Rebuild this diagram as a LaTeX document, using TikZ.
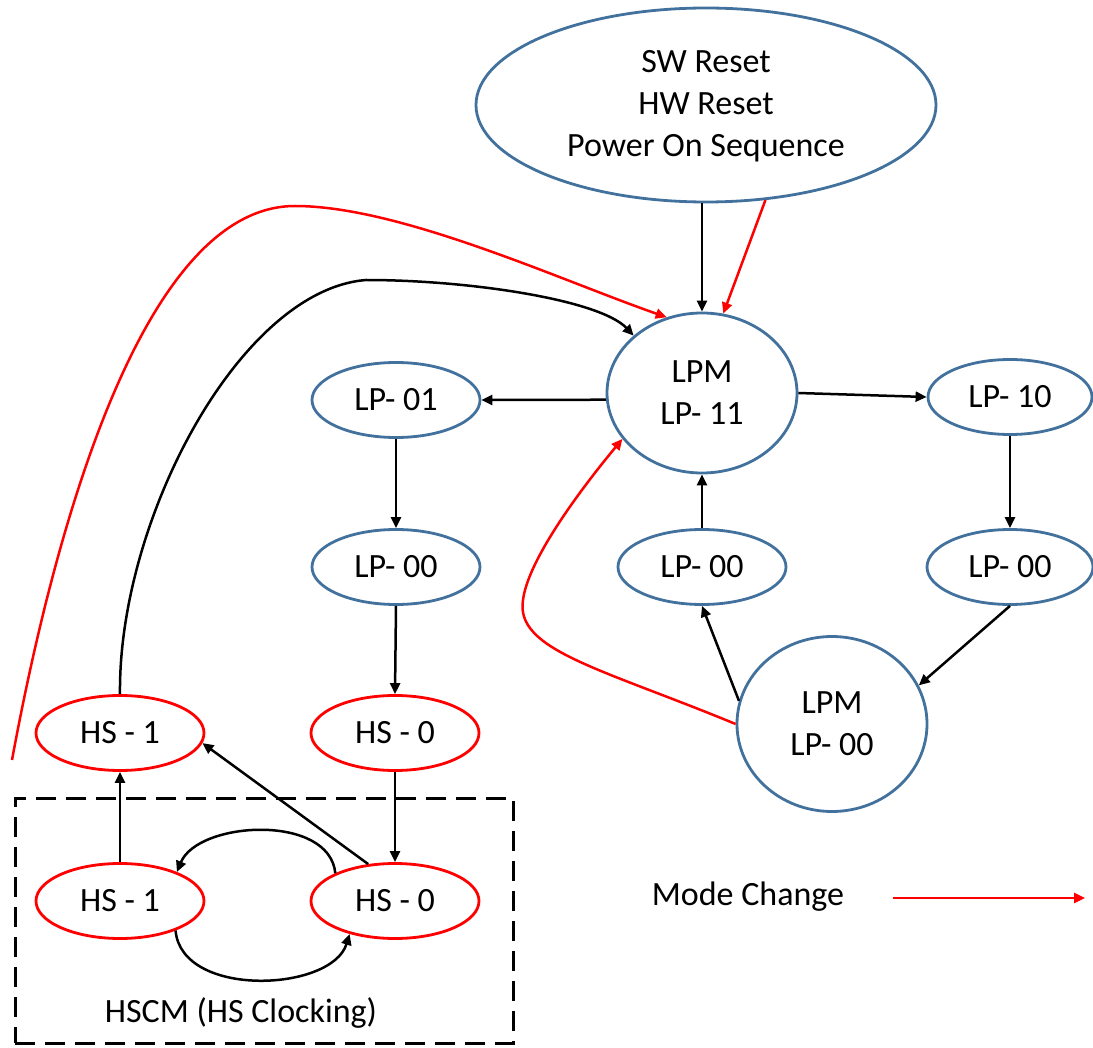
\documentclass[tikz,border=0pt]{standalone}
\usepackage{fontspec}
\setmainfont{Carlito}
\usetikzlibrary{shapes.geometric,arrows.meta}
\definecolor{oblue}{RGB}{65,113,156}
\definecolor{ored}{RGB}{255,0,0}
\begin{document}
\begin{tikzpicture}[x=1pt,y=-1pt,
  st/.style={ellipse,draw=oblue,line width=2.8pt,inner sep=0pt,align=center,font=\fontsize{34}{42}\selectfont},
  hs/.style={st,draw=ored},
  small/.style={minimum width=168pt,minimum height=75pt},
  lbl/.style={inner sep=0pt,font=\fontsize{34}{42}\selectfont},
  conn/.style={line width=2.5pt,-{Triangle[length=11pt,width=10pt]}},
  mode/.style={conn,draw=ored}]
\useasboundingbox (0,0) rectangle (1093,1048);
% nodes
\node[st,minimum width=460pt,minimum height=194pt,text depth=4pt] (top) at (706,105) {SW Reset\\HW Reset\\Power On Sequence};
\node[st,minimum width=190pt,minimum height=160pt] (lp11) at (702,393) {LPM\\LP- 11};
\node[st,small] (lp01) at (396,400) {LP- 01};
\node[st,small,minimum width=164pt] (lp10) at (1010,397) {LP- 10};
\node[st,small] (lp00a) at (396,567) {LP- 00};
\node[st,small] (lp00b) at (702,567) {LP- 00};
\node[st,small,minimum width=166pt] (lp00c) at (1010,567) {LP- 00};
\node[st,minimum width=190pt,minimum height=175pt] (lpm00) at (832,724) {LPM\\LP- 00};
\node[hs,small] (hs1u) at (120,733) {HS - 1};
\node[hs,small] (hs0u) at (395,733) {HS - 0};
\node[hs,small] (hs1l) at (120,901) {HS - 1};
\node[hs,small] (hs0l) at (395,901) {HS - 0};
\node[draw,line width=3pt,dash pattern=on 20pt off 10pt,minimum width=498pt,minimum height=245pt,inner sep=0pt] (box) at (264,920.5) {};
\node[lbl] (hscm) at (241,1013) {HSCM (HS Clocking)};
\node[lbl] (legend) at (748,897) {Mode Change};
\coordinate (legA) at (893,898);
\coordinate (legB) at (1085,898);
\coordinate (redstart) at (12,760);
% black connectors
\draw[conn] (lp11.north |- top.south) -- (lp11.north);
\draw[conn] (lp11.184) -- (lp01.east);
\draw[conn] (lp11.east) -- (lp10.west);
\draw[conn] (lp01.south) -- (lp00a.north);
\draw[conn] (lp00a.south) -- (hs0u.north);
\draw[conn] (hs0u.south) -- (hs0l.north);
\draw[conn] (hs1l.north) -- (hs1u.south);
\draw[conn] (hs0l.126) -- (hs1u.-7);
\draw[conn] (hs0l.155) .. controls +(-6,-60) and +(21,-51) .. (hs1l.27);
\draw[conn] (hs1l.-28) .. controls +(6,68) and +(-18,58) .. (hs0l.-144);
\draw[conn] (hs1u.north) .. controls (118,520) and (240,290) .. (366,280) .. controls (470,280) and (600,300) .. (lp11.140);
\draw[conn] (lp00b.north) -- (lp11.south);
\draw[conn] (lpm00.166) -- (lp00b.south);
\draw[conn] (lp00c.south) -- (lpm00.24);
\draw[conn] (lp10.south) -- (lp00c.north);
% red mode change connectors
\draw[mode] (top.-58) -- (lp11.75);
\draw[mode] (redstart) .. controls (60,500) and (150,206) .. (295,206) .. controls (400,206) and (560,280) .. (lp11.115);
\draw[mode] (lpm00.west) .. controls (600,668) and (515,650) .. (523,600) .. controls (528,560) and (580,490) .. (lp11.210);
\draw[mode] (legA) -- (legB);
\end{tikzpicture}
\end{document}
